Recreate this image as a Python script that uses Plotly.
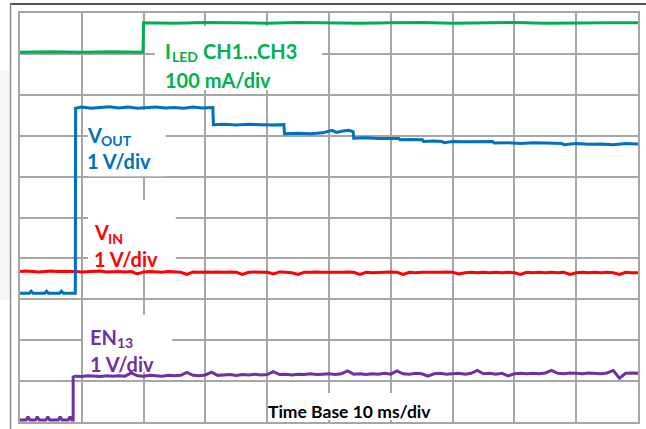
import plotly.graph_objects as go

# ---------------- data (screen divisions vs time in ms; 10 ms/div) ----------------
# I_LED CH1...CH3 (100 mA/div)
iled_t = [0, 5, 10, 15, 19.9, 20.0, 25, 30, 35, 40, 45, 50, 55, 60, 65, 70, 75, 80, 85, 90, 95, 100]
iled_v = [9.04, 9.05, 9.04, 9.05, 9.04, 9.76, 9.75, 9.77, 9.76, 9.75, 9.77, 9.76, 9.75, 9.76, 9.77,
          9.75, 9.76, 9.77, 9.75, 9.76, 9.76, 9.76]

# V_OUT (1 V/div)
vout_t = [0, 1.5, 1.8, 2.1, 4.0, 4.3, 4.6, 6.4, 6.7, 7.0, 8.95, 9.0, 10, 11.5, 13, 14.5, 16, 17.5, 19, 20.5,
          22, 23.5, 25, 26.5, 28, 29.5, 31.2, 31.3, 33, 35, 37, 39, 41, 42.7, 42.8, 45, 47, 49, 50.5, 51.2,
          52, 53.2, 53.9, 54.0, 56, 58, 60, 61.3, 61.5, 63, 65.1, 65.3, 67, 68.3, 68.6, 70, 72, 74, 76.5, 76.7,
          79, 81, 83, 85, 87.7, 88, 90, 92, 94, 96, 98, 100]
vout_v = [3.15, 3.15, 3.20, 3.15, 3.15, 3.20, 3.15, 3.15, 3.20, 3.15, 3.15, 7.67, 7.70, 7.67, 7.69, 7.71, 7.68, 7.70, 7.67, 7.69,
          7.70, 7.68, 7.69, 7.67, 7.70, 7.68, 7.69, 7.27, 7.28, 7.26, 7.28, 7.27, 7.26, 7.27, 7.05, 7.06, 7.05, 7.07, 7.13, 7.08,
          7.11, 7.13, 7.10, 6.94, 6.95, 6.93, 6.94, 6.93, 6.90, 6.91, 6.90, 6.86, 6.87, 6.86, 6.83, 6.86, 6.85, 6.86, 6.86, 6.82,
          6.83, 6.81, 6.83, 6.82, 6.81, 6.78, 6.81, 6.79, 6.80, 6.78, 6.81, 6.80]

# common 1 ms sample grid
t_ms = [0, 1, 2, 3, 4, 5, 6, 7, 8, 9, 10, 11, 12, 13, 14, 15, 16, 17, 18, 19, 20, 21, 22, 23, 24, 25,
        26, 27, 28, 29, 30, 31, 32, 33, 34, 35, 36, 37, 38, 39, 40, 41, 42, 43, 44, 45, 46, 47, 48, 49, 50,
        51, 52, 53, 54, 55, 56, 57, 58, 59, 60, 61, 62, 63, 64, 65, 66, 67, 68, 69, 70, 71, 72, 73, 74, 75,
        76, 77, 78, 79, 80, 81, 82, 83, 84, 85, 86, 87, 88, 89, 90, 91, 92, 93, 94, 95, 96, 97, 98, 99, 100]

# V_IN (1 V/div)
vin_v = [3.68, 3.69, 3.68, 3.67, 3.68, 3.69, 3.68, 3.68, 3.69, 3.68,
         3.67, 3.68, 3.68, 3.69, 3.67, 3.68, 3.68, 3.67, 3.68, 3.62,
         3.67, 3.68, 3.67, 3.66, 3.68, 3.67, 3.66, 3.61, 3.67, 3.66,
         3.67, 3.66, 3.67, 3.66, 3.67, 3.66, 3.61, 3.66, 3.67, 3.66,
         3.66, 3.62, 3.67, 3.66, 3.65, 3.61, 3.66, 3.66, 3.67, 3.66,
         3.66, 3.65, 3.66, 3.67, 3.66, 3.61, 3.66, 3.65, 3.66, 3.66,
         3.67, 3.66, 3.61, 3.66, 3.65, 3.66, 3.66, 3.65, 3.66, 3.67,
         3.66, 3.62, 3.65, 3.66, 3.65, 3.66, 3.65, 3.66, 3.65, 3.66,
         3.65, 3.61, 3.66, 3.65, 3.66, 3.65, 3.66, 3.65, 3.66, 3.61,
         3.65, 3.66, 3.65, 3.66, 3.65, 3.66, 3.65, 3.61, 3.66, 3.65,
         3.65]

# EN13 (1 V/div)
en_low_t = [0, 1.0, 1.3, 1.6, 2.5, 2.8, 3.1, 4.2, 4.5, 4.8, 6.2, 6.5, 6.8, 7.8, 8.1, 8.4, 8.6]
en_low_v = [0.05, 0.05, 0.13, 0.05, 0.05, 0.13, 0.05, 0.05, 0.13, 0.05, 0.05, 0.13, 0.05, 0.05, 0.13, 0.05, 0.05]
en_high_v = [1.10, 1.12, 1.11, 1.13, 1.12, 1.11, 1.13, 1.12, 1.13, 1.12, 1.20, 1.13,
             1.12, 1.14, 1.13, 1.12, 1.14, 1.13, 1.14, 1.21, 1.14, 1.13,
             1.15, 1.22, 1.14, 1.15, 1.16, 1.14, 1.16, 1.15, 1.17, 1.15,
             1.16, 1.23, 1.16, 1.17, 1.15, 1.17, 1.16, 1.18, 1.16, 1.17,
             1.18, 1.16, 1.18, 1.25, 1.17, 1.18, 1.16, 1.18, 1.17, 1.19,
             1.17, 1.25, 1.18, 1.17, 1.19, 1.18, 1.12, 1.18, 1.19, 1.17,
             1.18, 1.19, 1.17, 1.19, 1.26, 1.18, 1.19, 1.17, 1.19, 1.13,
             1.18, 1.19, 1.18, 1.19, 1.18, 1.20, 1.26, 1.19, 1.18, 1.20,
             1.19, 1.18, 1.20, 1.19, 1.18, 1.20, 1.26, 1.07, 1.19, 1.20,
             1.19]
en_high_t = [8.6] + t_ms[9:]
en_t = en_low_t + en_high_t
en_v = en_low_v + en_high_v

GREEN = "#00B050"
BLUE = "#0070C0"
RED = "#FF0000"
PURPLE = "#7030A0"
GRID = "#a6a6a6"
FONT = "Lato"

fig = go.Figure()
fig.add_trace(go.Scatter(x=iled_t, y=iled_v, mode="lines", line=dict(color=GREEN, width=3)))
fig.add_trace(go.Scatter(x=t_ms, y=vin_v, mode="lines", line=dict(color=RED, width=3)))
fig.add_trace(go.Scatter(x=en_t, y=en_v, mode="lines", line=dict(color=PURPLE, width=3)))
fig.add_trace(go.Scatter(x=vout_t, y=vout_v, mode="lines", line=dict(color=BLUE, width=3)))

# white label backgrounds that hide the graticule (below traces)
boxes = [
    (21.8, 48.9, 8.12, 9.68),
    (11.0, 23.6, 6.01, 7.63),
    (11.0, 25.2, 3.77, 5.43),
    (10.2, 24.6, 1.22, 2.62),
    (40.3, 68.0, 0.05, 0.71),
]
shapes = []
for x0, x1, y0, y1 in boxes:
    shapes.append(dict(type="rect", xref="x", yref="y", x0=x0, x1=x1, y0=y0, y1=y1,
                       fillcolor="white", line=dict(width=0), layer="between"))

# outer frame of the screenshot
W, H, L, T, R, B = 646, 429, 20, 13, 8, 7
pw, ph = W - L - R, H - T - B
def px(x):
    return (x - L) / pw
def py(y):
    return (H - B - y) / ph
shapes.append(dict(type="rect", xref="paper", yref="paper", x0=px(0), x1=px(9.5), y0=py(300), y1=py(70),
                    fillcolor="#f6f6f6", line=dict(width=0), layer="below"))
shapes.append(dict(type="line", xref="paper", yref="paper", x0=px(10), x1=px(646), y0=py(4), y1=py(4),
                    line=dict(color="#1a1a1a", width=1.5)))
shapes.append(dict(type="line", xref="paper", yref="paper", x0=px(10.5), x1=px(10.5), y0=py(4), y1=py(429),
                    line=dict(color="#8c8c8c", width=1.5)))

# (text, x, y, colour, size, xshift px, yshift px)
MAIN, SUB = 20, 14
labels = [
    ("I", 23.4, 9.08, GREEN, MAIN, 0, 0),
    ("LED", 23.4, 9.08, GREEN, SUB, 7, -6),
    ("CH1...CH3", 23.4, 9.08, GREEN, MAIN, 38, 0),
    ("100 mA/div", 23.4, 8.37, GREEN, MAIN, 0, 0),
    ("V", 10.9, 7.02, BLUE, MAIN, 0, 0),
    ("OUT", 10.9, 7.02, BLUE, SUB, 14, -6),
    ("1 V/div", 10.9, 6.37, BLUE, MAIN, 0, 0),
    ("V", 11.9, 4.64, RED, MAIN, 0, 0),
    ("IN", 11.9, 4.64, RED, SUB, 14, -6),
    ("1 V/div", 11.9, 3.98, RED, MAIN, 0, 0),
    ("EN", 11.3, 2.09, PURPLE, MAIN, 0, 0),
    ("13", 11.3, 2.09, PURPLE, SUB, 27.5, -6),
    ("1 V/div", 11.3, 1.42, PURPLE, MAIN, 0, 0),
    ("Time Base 10 ms/div", 40.2, 0.26, "#000000", 17.5, 0, 0),
]
annotations = [dict(text=t, x=x, y=y, xref="x", yref="y", xanchor="left", yanchor="middle",
                    xshift=xs, yshift=ys, showarrow=False, borderpad=0, borderwidth=0,
                    font=dict(family=FONT, size=s, color=c, weight="bold"))
               for t, x, y, c, s, xs, ys in labels]

axis_common = dict(showgrid=True, gridcolor=GRID, gridwidth=1.5, zeroline=False, showline=True,
                   mirror=True, linecolor=GRID, linewidth=1.5, showticklabels=False, ticks="")
fig.update_layout(
    width=W, height=H, margin=dict(l=L, r=R, t=T, b=B),
    plot_bgcolor="white", paper_bgcolor="white", showlegend=False,
    font=dict(family=FONT, size=20),
    xaxis=dict(range=[0, 100], tick0=0, dtick=10, **axis_common),
    yaxis=dict(range=[0, 10], tick0=0, dtick=1, **axis_common),
    shapes=shapes, annotations=annotations,
)
fig.write_html("out.html", config={"displayModeBar": False},
               post_script="document.body.style.margin='0';document.body.style.overflow='hidden';")
